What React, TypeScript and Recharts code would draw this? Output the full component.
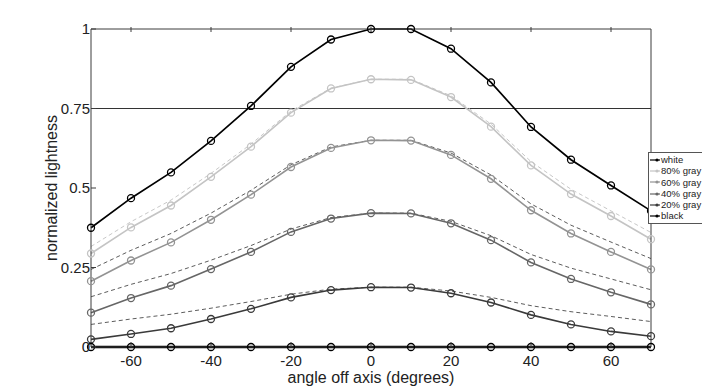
import React from 'react';
import { LineChart, Line, XAxis, YAxis, ReferenceLine, Legend } from 'recharts';

const angles = [-70, -60, -50, -40, -30, -20, -10, 0, 10, 20, 30, 40, 50, 60, 70];
const whiteVals = [0.375, 0.468, 0.549, 0.648, 0.758, 0.881, 0.967, 1.0, 1.0, 0.938, 0.832, 0.692, 0.589, 0.508, 0.428];
const gray80 = [0.294, 0.376, 0.445, 0.535, 0.63, 0.737, 0.813, 0.842, 0.84, 0.786, 0.693, 0.571, 0.481, 0.412, 0.339];
const gray60 = [0.207, 0.272, 0.329, 0.4, 0.479, 0.566, 0.626, 0.65, 0.649, 0.604, 0.529, 0.43, 0.357, 0.299, 0.244];
const gray40 = [0.108, 0.154, 0.193, 0.245, 0.299, 0.362, 0.404, 0.421, 0.42, 0.389, 0.336, 0.266, 0.214, 0.172, 0.134];
const gray20 = [0.024, 0.041, 0.059, 0.088, 0.12, 0.156, 0.179, 0.188, 0.187, 0.169, 0.14, 0.101, 0.071, 0.049, 0.034];
const blackVals = [0, 0, 0, 0, 0, 0, 0, 0, 0, 0, 0, 0, 0, 0, 0];
const ref80 = [0.316, 0.394, 0.462, 0.546, 0.638, 0.742, 0.814, 0.842, 0.842, 0.79, 0.701, 0.583, 0.496, 0.428, 0.36];
const ref60 = [0.244, 0.304, 0.357, 0.421, 0.493, 0.573, 0.629, 0.65, 0.65, 0.61, 0.541, 0.45, 0.383, 0.33, 0.278];
const ref40 = [0.158, 0.197, 0.231, 0.273, 0.319, 0.371, 0.407, 0.421, 0.421, 0.395, 0.35, 0.291, 0.248, 0.214, 0.18];
const ref20 = [0.071, 0.088, 0.103, 0.122, 0.143, 0.166, 0.182, 0.188, 0.188, 0.176, 0.156, 0.13, 0.111, 0.096, 0.08];

const xTicks = [-60, -40, -20, 0, 20, 40, 60];
const yTicks = [0, 0.25, 0.5, 0.75, 1];
const yTickLabels: Record<string, string> = { '0': '0', '0.25': '0.25', '0.5': '0.5', '0.75': '0.75', '1': '1' };
const thresholdValue = 0.75;

const legendItems = [
  { key: 'white', label: 'white', color: '#000000' },
  { key: 'g80', label: '80% gray', color: '#c4c4c4' },
  { key: 'g60', label: '60% gray', color: '#939393' },
  { key: 'g40', label: '40% gray', color: '#666666' },
  { key: 'g20', label: '20% gray', color: '#3a3a3a' },
  { key: 'black', label: 'black', color: '#000000' },
];

const data = angles.map((a, i) => ({
  angle: a,
  white: whiteVals[i],
  g80: gray80[i],
  g60: gray60[i],
  g40: gray40[i],
  g20: gray20[i],
  black: blackVals[i],
  r80: ref80[i],
  r60: ref60[i],
  r40: ref40[i],
  r20: ref20[i],
}));

const FONT = '"Liberation Sans", Arial, Helvetica, sans-serif';
const AXIS = '#3c3c3c';

const BottomTick = (props: any) => {
  const { x, y, payload } = props;
  return (
    <g>
      <line x1={x} x2={x} y1={y} y2={y - 5} stroke={AXIS} strokeWidth={1} />
      <text x={x} y={y + 19} textAnchor="middle" fontSize={15} fontFamily={FONT} fill="#222">
        {payload.value}
      </text>
    </g>
  );
};

const TopTick = (props: any) => {
  const { x, y } = props;
  return <line x1={x} x2={x} y1={y} y2={y + 5} stroke={AXIS} strokeWidth={1} />;
};

const LeftTick = (props: any) => {
  const { x, y, payload } = props;
  return (
    <g>
      <line x1={x} x2={x + 5} y1={y} y2={y} stroke={AXIS} strokeWidth={1} />
      <text x={x - 1} y={y + 5} textAnchor="end" fontSize={15} fontFamily={FONT} fill="#222">
        {yTickLabels[String(payload.value)]}
      </text>
    </g>
  );
};

const RightTick = (props: any) => {
  const { x, y } = props;
  return <line x1={x} x2={x - 5} y1={y} y2={y} stroke={AXIS} strokeWidth={1} />;
};

const YTitle = (props: any) => {
  const vb = props.viewBox || { x: 0, y: 29, width: 91, height: 318 };
  const cx = vb.x + 57;
  const cy = vb.y + vb.height / 2;
  return (
    <text
      x={cx}
      y={cy}
      transform={`rotate(-90, ${cx}, ${cy})`}
      textAnchor="middle"
      fontSize={16}
      fontFamily={FONT}
      fill="#222"
    >
      normalized lightness
    </text>
  );
};

const XTitle = (props: any) => {
  const vb = props.viewBox || { x: 91, y: 347, width: 560, height: 43 };
  const cx = vb.x + vb.width / 2;
  return (
    <text x={cx} y={vb.y + 36} textAnchor="middle" fontSize={16} fontFamily={FONT} fill="#222">
      angle off axis (degrees)
    </text>
  );
};

const renderLegend = () => (
  <div
    style={{
      border: '1px solid #555',
      borderRight: 'none',
      background: '#fff',
      padding: '1px 0 1px 1px',
      fontFamily: FONT,
      fontSize: 9.5,
      lineHeight: '11.3px',
      color: '#222',
      whiteSpace: 'nowrap',
      width: 53,
      overflow: 'visible',
    }}
  >
    {legendItems.map((it) => (
      <div key={it.key} style={{ display: 'flex', alignItems: 'center', height: 11.3 }}>
        <svg width={10} height={8} style={{ marginRight: 1, flex: 'none' }}>
          <line x1={0} x2={10} y1={4} y2={4} stroke={it.color} strokeWidth={1.2} />
          <circle cx={7} cy={4} r={1.6} fill={it.color} />
        </svg>
        <span>{it.label}</span>
      </div>
    ))}
  </div>
);

const dotFor = (color: string) => ({ r: 3.5, fill: 'none', stroke: color, strokeWidth: 1.3 });

export default function App() {
  return (
    <div style={{ position: 'absolute', left: 0, top: 0, background: '#fff' }}>
      <LineChart width={702} height={390} data={data} margin={{ top: 0, right: 0, bottom: 0, left: 0 }}>
        <XAxis
          xAxisId="top"
          orientation="top"
          dataKey="angle"
          type="number"
          domain={[-70, 70]}
          ticks={xTicks}
          height={29}
          tickSize={0}
          tickLine={false}
          tick={<TopTick />}
          axisLine={{ stroke: AXIS }}
        />
        <XAxis
          dataKey="angle"
          type="number"
          domain={[-70, 70]}
          ticks={xTicks}
          height={43}
          tickSize={0}
          tickMargin={0}
          tickLine={false}
          tick={<BottomTick />}
          axisLine={{ stroke: AXIS }}
          label={<XTitle />}
        />
        <YAxis
          type="number"
          domain={[0, 1]}
          ticks={yTicks}
          width={91}
          tickSize={0}
          tickMargin={0}
          tickLine={false}
          tick={<LeftTick />}
          axisLine={{ stroke: AXIS }}
          label={<YTitle />}
        />
        <YAxis
          yAxisId="right"
          orientation="right"
          type="number"
          domain={[0, 1]}
          ticks={yTicks}
          width={51}
          tickSize={0}
          tickMargin={0}
          tickLine={false}
          tick={<RightTick />}
          axisLine={{ stroke: AXIS }}
        />
        <ReferenceLine y={thresholdValue} stroke="#333" strokeWidth={1} />
        <Line dataKey="r80" stroke="#c8c8c8" strokeWidth={1} strokeDasharray="4 3" dot={false} activeDot={false} isAnimationActive={false} />
        <Line dataKey="r60" stroke="#4a4a4a" strokeWidth={0.9} strokeDasharray="4 3" dot={false} activeDot={false} isAnimationActive={false} />
        <Line dataKey="r40" stroke="#4a4a4a" strokeWidth={0.9} strokeDasharray="4 3" dot={false} activeDot={false} isAnimationActive={false} />
        <Line dataKey="r20" stroke="#4a4a4a" strokeWidth={0.9} strokeDasharray="4 3" dot={false} activeDot={false} isAnimationActive={false} />
        <Line dataKey="g20" stroke="#3a3a3a" strokeWidth={1.6} dot={dotFor('#3a3a3a')} activeDot={false} isAnimationActive={false} />
        <Line dataKey="g40" stroke="#666666" strokeWidth={1.6} dot={dotFor('#666666')} activeDot={false} isAnimationActive={false} />
        <Line dataKey="g60" stroke="#939393" strokeWidth={1.6} dot={dotFor('#939393')} activeDot={false} isAnimationActive={false} />
        <Line dataKey="g80" stroke="#c4c4c4" strokeWidth={1.6} dot={dotFor('#c4c4c4')} activeDot={false} isAnimationActive={false} />
        <Line dataKey="white" stroke="#000000" strokeWidth={1.7} dot={dotFor('#000000')} activeDot={false} isAnimationActive={false} />
        <Line dataKey="black" stroke="#000000" strokeWidth={2.6} dot={dotFor('#000000')} activeDot={false} isAnimationActive={false} />
        <Legend
          layout="vertical"
          align="center"
          verticalAlign="middle"
          content={renderLegend}
          wrapperStyle={{ left: 648, top: 152, width: 54, height: 'auto' }}
        />
      </LineChart>
    </div>
  );
}
